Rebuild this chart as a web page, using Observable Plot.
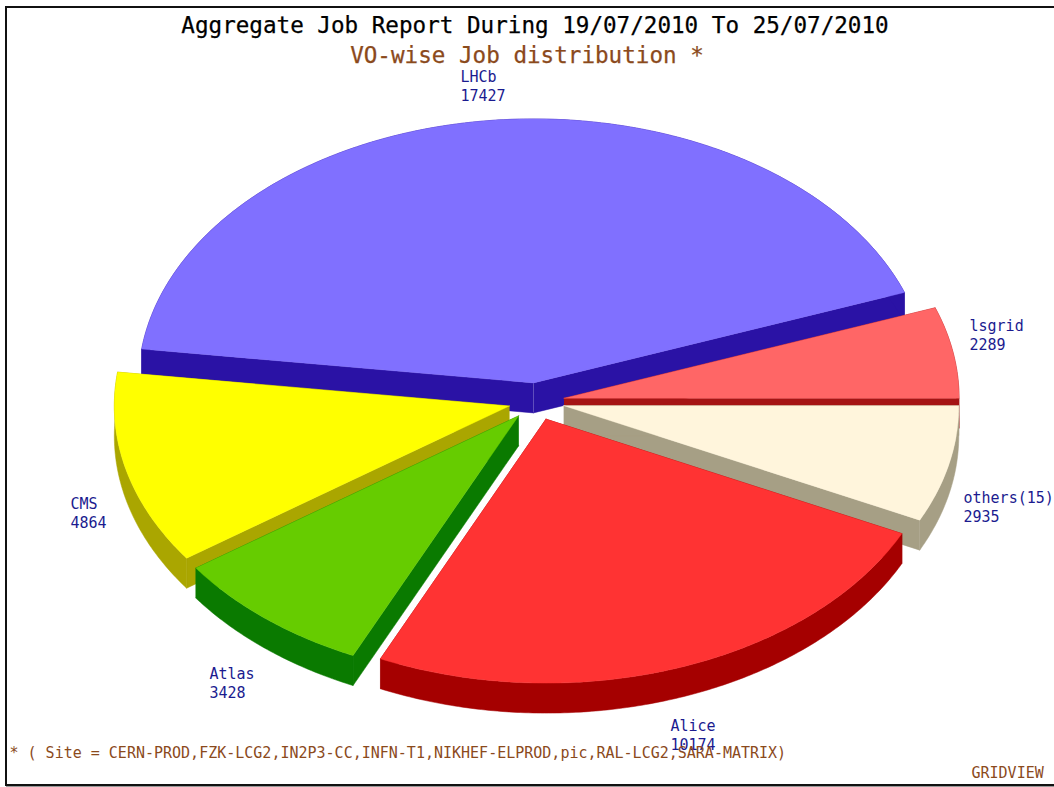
<!DOCTYPE html>
<html>
<head>
<meta charset="utf-8">
<script src="https://cdn.jsdelivr.net/npm/d3@7"></script>
<script src="https://cdn.jsdelivr.net/npm/@observablehq/plot@0.6"></script>
<style>
  html, body { margin: 0; padding: 0; background: #fff; }
  #page { position: relative; width: 1054px; height: 787px; overflow: hidden; font-family: "DejaVu Sans Mono", monospace; }
  #title, #subtitle { font-size: 22.6px; text-align: center; white-space: pre; -webkit-text-stroke: 0.25px currentColor; }
  #title { height: 30px; padding-top: 12px; line-height: 26px; color: #000; width: 1070px; }
  #subtitle { height: 24px; line-height: 26px; color: #8b4a1c; width: 1054px; }
  #chart svg { display: block; }
  #frame { position: absolute; left: 5px; top: 6px; width: 1060px; height: 776px; border: 2px solid #111; box-shadow: 1px 2px 0 #999; pointer-events: none; }
</style>
</head>
<body>
<div id="page">
  <div id="title">Aggregate Job Report During 19/07/2010 To 25/07/2010</div>
  <div id="subtitle">VO-wise Job distribution *</div>
  <div id="chart"></div>
  <div id="frame"></div>
</div>
<script>
// Data, counter-clockwise from the east
const categories = ["lsgrid", "LHCb", "CMS", "Atlas", "Alice", "others(15)"];
const values = [2289, 17427, 4864, 3428, 10174, 2935];
const topColors = ["#ff6666", "#8070ff", "#ffff00", "#66cc00", "#ff3333", "#fff5dc"];
const sideColors = ["#a51414", "#2a12a5", "#aaa600", "#0a7a00", "#a50000", "#a69f85"];
const labelX = [969, 460, 70, 209, 670, 963];
const labelY = [334, 85, 512, 682, 734, 506];
const paintOrder = ["LHCb", "lsgrid", "others(15)", "CMS", "Atlas", "Alice"];
const footnote = "* ( Site = CERN-PROD,FZK-LCG2,IN2P3-CC,INFN-T1,NIKHEF-ELPROD,pic,RAL-LCG2,SARA-MATRIX)";
const credit = "GRIDVIEW";

// Projection of the tilted pie
const W = 1054, H = 787, TOP = 66;
const cx = 536, cy = 401, rx = 395, ry = 264, explode = 28, tilt = ry / rx, depth = 30;

const angles = d3.pie().sort(null).value(d => d)(values);

function outline(i) {
  const a0 = angles[i].startAngle, a1 = angles[i].endAngle, mid = (a0 + a1) / 2;
  const ax = cx + explode * Math.cos(mid), ay = cy - explode * tilt * Math.sin(mid);
  const arc = [];
  const n = Math.ceil((a1 - a0) / 0.01);
  for (let k = 0; k <= n; ++k) {
    const a = a0 + (a1 - a0) * k / n;
    arc.push({x: ax + rx * Math.cos(a), y: ay - ry * Math.sin(a)});
  }
  return {apex: {x: ax, y: ay}, arc};
}

const drop = (p, z) => ({z, x: p.x, y: p.y + depth});
const keep = (p, z) => ({z, x: p.x, y: p.y});

const marks = [];
for (const name of paintOrder) {
  const i = categories.indexOf(name);
  const {apex, arc} = outline(i);
  const first = arc[0], last = arc[arc.length - 1];
  const wall = [
    keep(apex, "a"), keep(first, "a"), drop(first, "a"), drop(apex, "a"),
    keep(apex, "b"), keep(last, "b"), drop(last, "b"), drop(apex, "b"),
    ...arc.map(p => keep(p, "c")), ...arc.slice().reverse().map(p => drop(p, "c"))
  ];
  marks.push(Plot.line(wall, {x: "x", y: "y", z: "z", fill: sideColors[i], stroke: sideColors[i], strokeWidth: 0.5}));
  marks.push(Plot.line([apex, ...arc, apex], {x: "x", y: "y", fill: topColors[i], stroke: topColors[i], strokeWidth: 0.4}));
}

const labels = categories.map((c, i) => ({text: c + "\n" + values[i], x: labelX[i], y: labelY[i]}));
marks.push(Plot.text(labels, {x: "x", y: "y", text: "text", textAnchor: "start", lineAnchor: "middle", lineHeight: 1.3, fill: "#1b1b8f", fontSize: 15, fontFamily: "DejaVu Sans Mono"}));
marks.push(Plot.text([footnote], {x: () => 9, y: () => 753, text: d => d, textAnchor: "start", fill: "#8b4a1c", fontSize: 15, fontFamily: "DejaVu Sans Mono"}));
marks.push(Plot.text([credit], {x: () => 971, y: () => 773, text: d => d, textAnchor: "start", fill: "#8b4a1c", fontSize: 15, fontFamily: "DejaVu Sans Mono"}));

const chart = Plot.plot({
  width: W,
  height: H - TOP,
  margin: 0,
  x: {domain: [0, W], range: [0, W], axis: null},
  y: {domain: [TOP, H], range: [0, H - TOP], axis: null},
  marks
});
document.getElementById("chart").appendChild(chart);
</script>
</body>
</html>
